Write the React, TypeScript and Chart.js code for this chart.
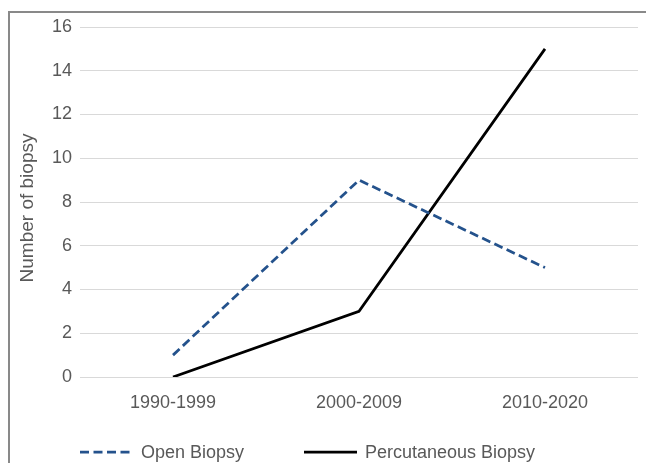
import React, { useEffect, useRef } from 'react';
import { Chart, registerables } from 'chart.js';

Chart.register(...registerables);

const categories = ['1990-1999', '2000-2009', '2010-2020'];
const openBiopsy = [1, 9, 5];
const percutaneousBiopsy = [0, 3, 15];
const seriesLabels = ['Open Biopsy', 'Percutaneous Biopsy'];
const yTitle = 'Number of biopsy';
const yMin = 0;
const yMax = 16;
const yStep = 2;

const FONT = "'Liberation Sans', Arial, Helvetica, sans-serif";
const TEXT = '#595959';
const BLUE = '#24528C';
const BLACK = '#000000';

const decorPlugin = {
  id: 'decor',
  afterDraw(chart: any) {
    const ctx = chart.ctx as CanvasRenderingContext2D;
    ctx.save();
    // outer frame (cropped chart border)
    ctx.strokeStyle = '#898989';
    ctx.lineWidth = 2;
    ctx.strokeRect(9, 12, 800, 600);

    // y axis title
    ctx.save();
    ctx.translate(28, 208);
    ctx.rotate(-Math.PI / 2);
    ctx.fillStyle = TEXT;
    ctx.font = `19px ${FONT}`;
    ctx.textAlign = 'center';
    ctx.textBaseline = 'middle';
    ctx.fillText(yTitle, 0, 0);
    ctx.restore();

    // legend
    const ds = chart.data.datasets;
    const items = [
      { x0: 80, x1: 134, tx: 141 },
      { x0: 304, x1: 357, tx: 365 },
    ];
    items.forEach((it, i) => {
      const d = ds[i];
      ctx.save();
      ctx.strokeStyle = d.borderColor;
      ctx.lineWidth = d.borderWidth;
      ctx.setLineDash(d.borderDash || []);
      ctx.beginPath();
      ctx.moveTo(it.x0, 452);
      ctx.lineTo(it.x1, 452);
      ctx.stroke();
      ctx.restore();
      ctx.fillStyle = TEXT;
      ctx.font = `18px ${FONT}`;
      ctx.textAlign = 'left';
      ctx.textBaseline = 'middle';
      ctx.fillText(d.label, it.tx, 453);
    });
    ctx.restore();
  },
};

export default function App() {
  const ref = useRef<HTMLCanvasElement | null>(null);

  useEffect(() => {
    if (!ref.current) return;
    const chart = new Chart(ref.current, {
      type: 'line',
      data: {
        labels: categories,
        datasets: [
          {
            label: seriesLabels[0],
            data: openBiopsy,
            borderColor: BLUE,
            backgroundColor: BLUE,
            borderWidth: 2.75,
            borderDash: [9, 4.5],
            pointRadius: 0,
            tension: 0,
            fill: false,
          },
          {
            label: seriesLabels[1],
            data: percutaneousBiopsy,
            borderColor: BLACK,
            backgroundColor: BLACK,
            borderWidth: 2.75,
            pointRadius: 0,
            tension: 0,
            fill: false,
          },
        ],
      },
      options: {
        responsive: false,
        animation: false,
        devicePixelRatio: 1,
        layout: { padding: { top: 27, right: 8, bottom: 0, left: 0 } },
        plugins: {
          legend: { display: false },
          tooltip: { enabled: false },
          title: { display: false },
        },
        scales: {
          x: {
            offset: true,
            grid: { display: false, drawTicks: false },
            border: { display: false },
            ticks: {
              color: TEXT,
              font: { family: FONT, size: 18 },
              padding: 15,
              maxRotation: 0,
            },
            afterFit: (s: any) => {
              s.height = 86;
            },
          },
          y: {
            min: yMin,
            max: yMax,
            grid: { color: '#d9d9d9', lineWidth: 1, drawTicks: false },
            border: { display: false },
            ticks: {
              stepSize: yStep,
              color: TEXT,
              font: { family: FONT, size: 18 },
              padding: 8,
            },
            afterFit: (s: any) => {
              s.width = 80;
            },
          },
        },
      },
      plugins: [decorPlugin],
    });
    return () => chart.destroy();
  }, []);

  return (
    <div style={{ position: 'fixed', left: 0, top: 0, width: 646, height: 463, background: '#fff' }}>
      <canvas ref={ref} width={646} height={463} style={{ display: 'block', width: 646, height: 463 }} />
    </div>
  );
}
